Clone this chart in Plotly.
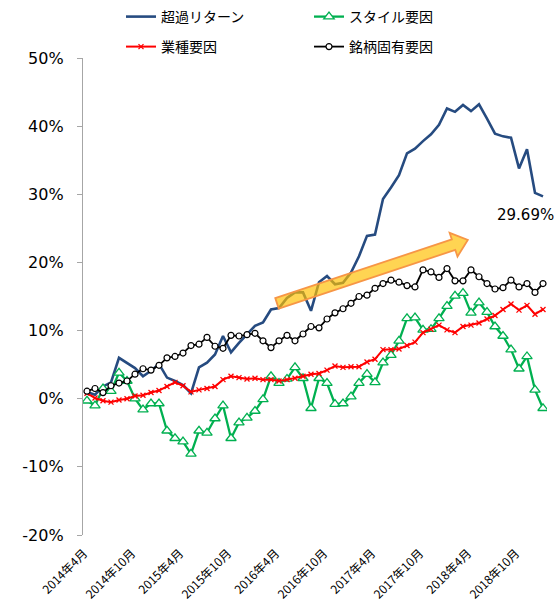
import plotly.graph_objects as go

# Monthly categories, April 2014 to January 2019
START_YEAR, START_MONTH, N_MONTHS = 2014, 4, 58
months = []
for k in range(N_MONTHS):
    m = START_MONTH - 1 + k
    months.append(f"{START_YEAR + m // 12}年{m % 12 + 1}月")

# Cumulative factor returns (%)
excess_return = [1.0, 0.6, 1.8, 2.4, 6.0, 5.2, 4.5, 3.3, 4.1, 5.1,
                 3.1, 2.6, 2.0, 0.8, 4.6, 5.3, 6.5, 9.2, 6.8, 8.2,
                 9.5, 10.7, 11.2, 13.1, 13.3, 14.8, 15.6, 15.6, 12.9, 17.1,
                 18.0, 16.8, 17.0, 18.5, 20.9, 23.9, 24.1, 29.3, 31.0, 32.8,
                 36.0, 36.7, 37.8, 38.8, 40.2, 42.6, 42.1, 43.1, 42.2, 43.2,
                 41.1, 38.9, 38.5, 38.3, 33.8, 36.6, 30.2, 29.69]
style_factor = [-0.3, -1.0, 1.5, 1.1, 3.8, 2.6, 0.0, -1.6, -0.7, -0.7,
                -4.7, -5.8, -6.3, -8.1, -4.7, -5.0, -2.9, -1.0, -5.8, -3.5,
                -2.8, -1.8, -0.1, 3.3, 2.3, 2.9, 4.6, 3.0, -1.4, 3.0,
                2.3, -0.8, -0.7, 0.3, 2.3, 3.6, 2.4, 5.3, 6.4, 8.5,
                11.8, 11.9, 10.1, 10.2, 11.8, 13.6, 15.1, 15.5, 12.6, 14.1,
                12.7, 10.6, 9.2, 7.2, 4.4, 6.2, 1.3, -1.4]
industry_factor = [0.8, 0.1, -0.3, -0.5, -0.2, 0.0, 0.4, 0.5, 0.9, 1.2,
                   1.8, 2.4, 1.9, 1.0, 1.3, 1.5, 1.8, 2.8, 3.3, 3.1,
                   2.9, 3.0, 2.8, 2.8, 2.6, 2.8, 3.0, 3.3, 3.6, 3.7,
                   4.2, 4.8, 4.6, 4.7, 4.7, 5.4, 5.8, 7.2, 7.2, 7.3,
                   7.8, 8.3, 9.7, 10.2, 10.8, 10.1, 9.7, 10.6, 10.8, 11.1,
                   11.7, 12.2, 13.1, 13.9, 13.0, 13.7, 12.4, 13.1]
specific_factor = [1.1, 1.5, 0.9, 1.9, 2.3, 2.6, 3.6, 4.4, 4.2, 4.9,
                   6.0, 6.2, 6.7, 7.8, 8.0, 9.0, 7.7, 7.4, 9.3, 9.2,
                   9.4, 9.6, 8.5, 7.5, 8.5, 9.3, 8.5, 9.5, 10.6, 10.4,
                   11.7, 12.6, 13.2, 14.0, 15.0, 15.2, 16.2, 16.9, 17.4, 17.1,
                   16.6, 16.4, 18.9, 18.6, 17.8, 19.1, 17.3, 17.3, 18.9, 17.9,
                   16.9, 16.1, 16.3, 17.4, 16.4, 16.9, 15.6, 16.9]

y_ticks = [-20, -10, 0, 10, 20, 30, 40, 50]
y_tick_text = [f"{v}%" for v in y_ticks]
label_step = 6

# Trend arrow (category index, %)
ARROW_TAIL = (23.75, 14.0)
ARROW_TIP = (47.6, 23.3)

W, H = 554, 603
M = dict(l=83, r=7, t=58, b=68, autoexpand=False)
X_RANGE = [-0.5, N_MONTHS - 0.5]
Y_RANGE = [-20, 50]

FONT = "DejaVu Sans, Noto Sans CJK JP, sans-serif"
CJK_FONT = "Noto Sans CJK JP, sans-serif"
AXIS_GRAY = "#A6A6A6"

x = list(range(N_MONTHS))

fig = go.Figure()
fig.add_trace(go.Scatter(
    x=x, y=excess_return, name="超過リターン", mode="lines",
    line=dict(color="#264B80", width=2.6), legend="legend"))
fig.add_trace(go.Scatter(
    x=x, y=style_factor, name="スタイル要因", mode="lines+markers",
    line=dict(color="#00B050", width=2.3),
    marker=dict(symbol="triangle-up", size=9, color="white",
                line=dict(color="#00B050", width=1.3)),
    legend="legend"))
fig.add_trace(go.Scatter(
    x=x, y=industry_factor, name="業種要因", mode="lines+markers",
    line=dict(color="#FF0000", width=2.0),
    marker=dict(symbol="x-thin", size=5, color="#FF0000",
                line=dict(color="#FF0000", width=1.3)),
    legend="legend2"))
fig.add_trace(go.Scatter(
    x=x, y=specific_factor, name="銘柄固有要因", mode="lines+markers",
    line=dict(color="#000000", width=1.8),
    marker=dict(symbol="circle", size=6, color="white",
                line=dict(color="#000000", width=1.2)),
    legend="legend2"))

# Block arrow built in pixel space, then mapped back to data units
plot_w = W - M["l"] - M["r"]
plot_h = H - M["t"] - M["b"]
sx = plot_w / (X_RANGE[1] - X_RANGE[0])
sy = plot_h / (Y_RANGE[1] - Y_RANGE[0])
tx, ty = ARROW_TAIL[0] * sx, -ARROW_TAIL[1] * sy
hx, hy = ARROW_TIP[0] * sx, -ARROW_TIP[1] * sy
dx, dy = hx - tx, hy - ty
length = (dx * dx + dy * dy) ** 0.5
ux, uy = dx / length, dy / length
nx, ny = -uy, ux
body_half, head_half, head_len = 5.5, 12.5, 15.0
bx, by = hx - ux * head_len, hy - uy * head_len
pts_px = [
    (tx + nx * body_half, ty + ny * body_half),
    (bx + nx * body_half, by + ny * body_half),
    (bx + nx * head_half, by + ny * head_half),
    (hx, hy),
    (bx - nx * head_half, by - ny * head_half),
    (bx - nx * body_half, by - ny * body_half),
    (tx - nx * body_half, ty - ny * body_half),
]
pts = [(px / sx, -py / sy) for px, py in pts_px]
path = "M " + " L ".join(f"{a:.4f},{b:.4f}" for a, b in pts) + " Z"
fig.add_shape(type="path", path=path, xref="x", yref="y",
              fillcolor="rgba(255,192,0,0.68)",
              line=dict(color="#F79646", width=1.8), layer="above")

# Final value label
fig.add_annotation(x=x[-1], y=excess_return[-1], xref="x", yref="y",
                   text=f"{excess_return[-1]:.2f}%", showarrow=False,
                   xanchor="center", yanchor="middle", xshift=-18, yshift=-19,
                   font=dict(size=15, color="#000000", family=FONT))

zero_pos = (0 - Y_RANGE[0]) / (Y_RANGE[1] - Y_RANGE[0])

fig.update_layout(
    width=W, height=H, margin=M,
    paper_bgcolor="white", plot_bgcolor="white",
    font=dict(family=FONT, size=15, color="#000000"),
    xaxis=dict(range=X_RANGE, showgrid=False, zeroline=False, showline=False,
               tickvals=x[::label_step], ticktext=months[::label_step],
               tickangle=-45, ticks="", ticklabelstandoff=8,
               ticklabelshift=-3,
               tickfont=dict(size=12, family=CJK_FONT),
               automargin=False),
    xaxis2=dict(range=X_RANGE, overlaying="x", anchor="free",
                position=zero_pos, showgrid=False, zeroline=False,
                showline=True, linecolor="#B4B4B4", linewidth=1.5,
                tickvals=[v - 0.5 for v in x[::label_step]],
                ticks="outside", ticklen=4, tickcolor="#B4B4B4",
                tickwidth=1.3, showticklabels=False, automargin=False),
    yaxis=dict(range=Y_RANGE, showgrid=False, zeroline=False,
               showline=True, linecolor=AXIS_GRAY, linewidth=1.3,
               tickvals=y_ticks, ticktext=y_tick_text,
               ticks="outside", ticklen=5, tickcolor=AXIS_GRAY,
               tickwidth=1.3, ticklabelstandoff=10,
               tickfont=dict(size=16), automargin=False),
    legend=dict(orientation="h", xref="container", yref="container",
                x=121 / W, y=1 - 17 / H, xanchor="left", yanchor="middle",
                entrywidth=143, entrywidthmode="pixels",
                font=dict(size=14), bgcolor="rgba(0,0,0,0)",
                itemclick=False),
    legend2=dict(orientation="h", xref="container", yref="container",
                 x=121 / W, y=1 - 47 / H, xanchor="left", yanchor="middle",
                 entrywidth=143, entrywidthmode="pixels",
                 font=dict(size=14), bgcolor="rgba(0,0,0,0)",
                 itemclick=False),
    showlegend=True,
)

fig.write_html("out.html")
